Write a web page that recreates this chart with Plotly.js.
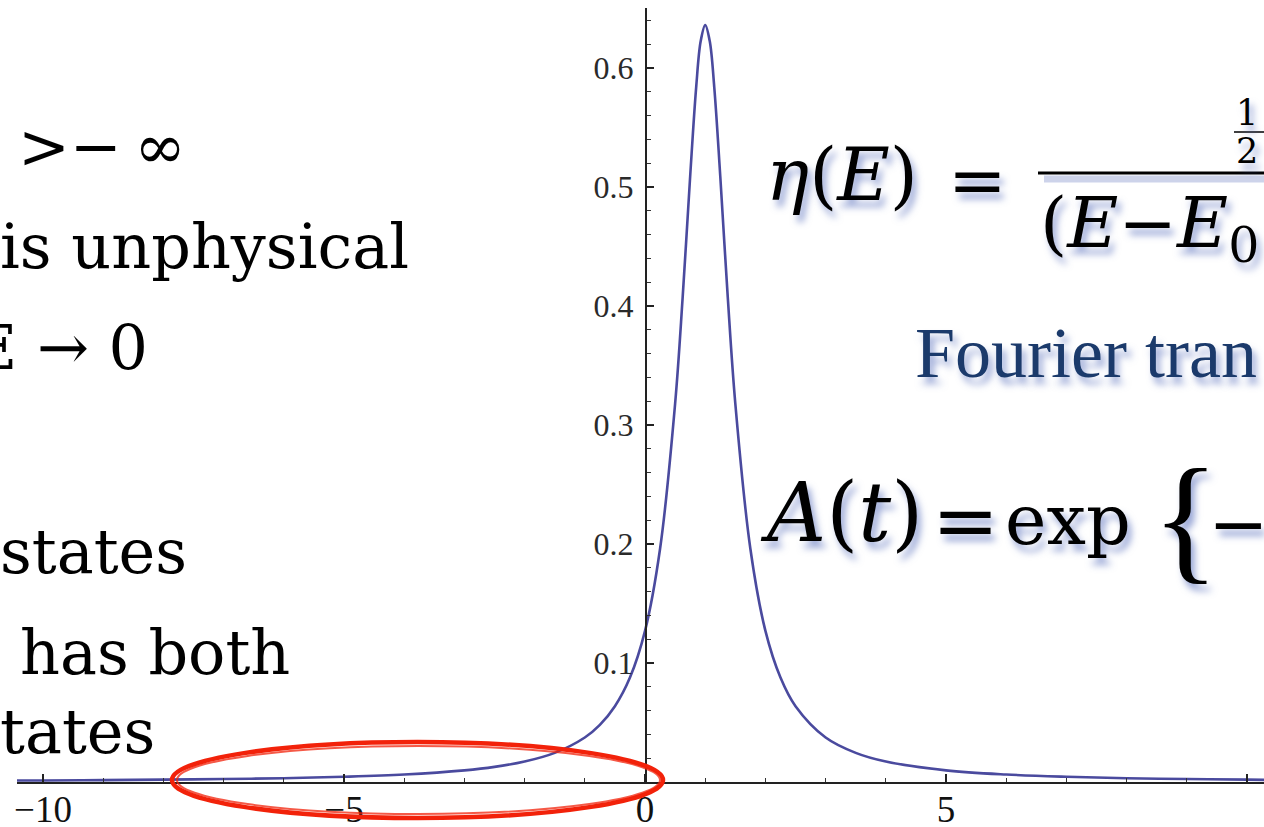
<!DOCTYPE html>
<html>
<head>
<meta charset="utf-8">
<script src="https://cdn.plot.ly/plotly-3.0.1.min.js"></script>
<style>
html,body{margin:0;padding:0;background:#fff;overflow:hidden;}
#chart{width:1264px;height:827px;}
</style>
</head>
<body>
<div id="chart"></div>
<script>
// Energy values E and the line shape eta(E)
var energy = [-10.5,-10,-9,-8,-7,-6,-5,-4,-3,-2.5,-2,-1.5,-1,-0.75,-0.5,-0.25,0,0.25,0.5,0.625,0.75,0.85,0.925,1,1.075,1.15,1.25,1.375,1.5,1.75,2,2.25,2.5,3,3.5,4,5,6,7,8,9,10,10.3];
var eta = [0.0012,0.0013,0.0016,0.0020,0.0025,0.0032,0.0044,0.0063,0.0098,0.0127,0.0172,0.0245,0.0374,0.0480,0.0637,0.0878,0.127,0.196,0.318,0.407,0.509,0.584,0.6226,0.636,0.6226,0.584,0.509,0.407,0.318,0.196,0.127,0.0878,0.0637,0.0374,0.0245,0.0172,0.0098,0.0063,0.0044,0.0032,0.0025,0.0020,0.0018];

var xTickVals = [-10,-5,0,5,10];
var xTickText = ['\u221210','\u22125','0','5','10'];
var yTickVals = [0.1,0.2,0.3,0.4,0.5,0.6];
var yTickText = ['0.1','0.2','0.3','0.4','0.5','0.6'];

var slideLines = ['>\u2212\u2009\u221e','is unphysical','E \u2192 0','states','has both','tates'];
var formulaEta = '<i>\u03b7</i>(<i>E</i>)';
var formulaDen = '(<i>E</i>\u2212<i>E</i><sub>0</sub>';
var fourierText = 'Fourier tran';
var formulaA = '<i>A</i>(<i>t</i>)';

var W = 1264, H = 827, mt = 8, mb = 45;
var PH = H - mt - mb;
function px(x){ return x / W; }
function py(y){ return (H - mb - y) / PH; }

var trace = {
  x: energy, y: eta, type: 'scatter', mode: 'lines',
  line: {color: '#4a4a9e', width: 2.6, shape: 'spline', smoothing: 1},
  hoverinfo: 'skip'
};

var shadow = '4px 7px 7px rgba(70,95,180,0.55)';
function mathFont(size, fam){ return {family: fam || 'DejaVu Serif', size: size, color: '#000', shadow: shadow}; }

function leftLine(txt, x, yc){
  return {text: txt, xref: 'paper', yref: 'paper', x: px(x), y: py(yc), xanchor: 'left', yanchor: 'middle',
    showarrow: false, font: {family: 'DejaVu Serif', size: 62, color: '#000'}};
}
function ann(txt, x, yc, font, xa){
  return {text: txt, xref: 'paper', yref: 'paper', x: px(x), y: py(yc), xanchor: xa || 'left', yanchor: 'middle',
    showarrow: false, font: font};
}

var annotations = [
  leftLine(slideLines[0], 16, 146),
  leftLine(slideLines[1], -2, 246),
  leftLine(slideLines[2], -30, 347),
  leftLine(slideLines[3], -2, 551),
  leftLine(slideLines[4], 18, 652),
  leftLine(slideLines[5], -2, 731),
  ann(formulaEta, 764, 175, mathFont(72)),
  ann('=', 977, 180, mathFont(70), 'center'),
  ann('1', 1247, 113, mathFont(35), 'center'),
  ann('2', 1247, 151, mathFont(35), 'center'),
  ann(formulaDen, 1038, 228, mathFont(70)),
  ann(fourierText, 913, 353, {family: 'Liberation Serif', size: 72, color: '#1b3a6b', shadow: shadow}),
  ann(formulaA, 758, 512, mathFont(82)),
  ann('=', 965, 520, mathFont(80), 'center'),
  ann('exp', 1003, 520, mathFont(70)),
  ann('{', 1150, 517, mathFont(140, 'Liberation Serif')),
  ann('\u2212', 1206, 524, mathFont(72))
];

var shapes = [
  {type: 'line', xref: 'paper', yref: 'paper', x0: px(1044), x1: px(1270), y0: py(179), y1: py(179),
    line: {color: 'rgba(90,110,185,0.3)', width: 7}},
  {type: 'line', xref: 'paper', yref: 'paper', x0: px(1038), x1: px(1270), y0: py(173), y1: py(173),
    line: {color: '#000', width: 3}},
  {type: 'line', xref: 'paper', yref: 'paper', x0: px(1234), x1: px(1270), y0: py(132), y1: py(132),
    line: {color: '#000', width: 1.5}},
  {type: 'circle', xref: 'paper', yref: 'paper', x0: px(172), x1: px(663), y0: py(818), y1: py(742),
    line: {color: '#f2220a', width: 4.5}},
  {type: 'circle', xref: 'paper', yref: 'paper', x0: px(177), x1: px(660), y0: py(814), y1: py(746),
    line: {color: 'rgba(242,34,10,0.75)', width: 2}}
];

var layout = {
  width: W, height: H,
  margin: {l: 0, r: 0, t: mt, b: mb, pad: 0},
  paper_bgcolor: '#fff', plot_bgcolor: 'rgba(0,0,0,0)',
  showlegend: false,
  xaxis: {
    domain: [17 / W, 1], range: [-10.432, 10.282],
    showgrid: false, zeroline: false, showline: true, linecolor: '#222', linewidth: 1.6,
    tickmode: 'array', tickvals: xTickVals, ticktext: xTickText,
    ticks: 'inside', ticklen: 8, tickwidth: 1.4, tickcolor: '#222',
    minor: {tickmode: 'linear', tick0: 0, dtick: 1, ticks: 'inside', ticklen: 4, tickwidth: 1.2, tickcolor: '#333', showgrid: false},
    tickfont: {family: 'Liberation Serif', size: 37, color: '#111'},
    ticklabelstandoff: -6,
    fixedrange: true
  },
  yaxis: {
    anchor: 'free', position: 645 / W, range: [0, PH / 1190],
    showgrid: false, zeroline: false, showline: true, linecolor: '#222', linewidth: 1.6,
    tickmode: 'array', tickvals: yTickVals, ticktext: yTickText,
    ticks: 'inside', ticklen: 7, tickwidth: 1.4, tickcolor: '#222',
    minor: {tickmode: 'linear', tick0: 0, dtick: 0.02, ticks: 'inside', ticklen: 4, tickwidth: 1.2, tickcolor: '#333', showgrid: false},
    tickfont: {family: 'Liberation Serif', size: 32, color: '#2a2a2a'},
    ticklabelstandoff: 5,
    fixedrange: true
  },
  annotations: annotations,
  shapes: shapes
};

Plotly.newPlot('chart', [trace], layout, {staticPlot: true, displayModeBar: false});
</script>
</body>
</html>
